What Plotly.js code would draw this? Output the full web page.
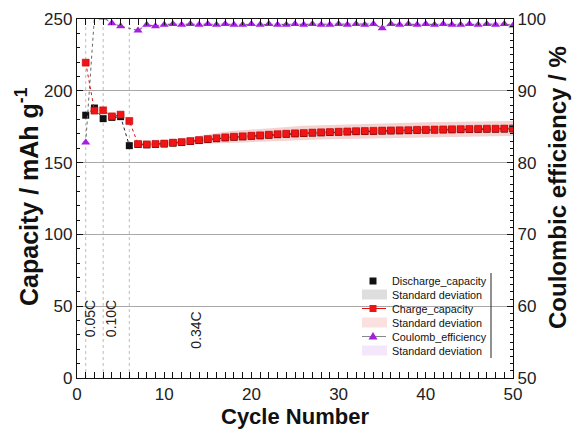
<!DOCTYPE html>
<html>
<head>
<meta charset="utf-8">
<script src="https://cdn.plot.ly/plotly-3.0.1.min.js"></script>
<style>
  html, body { margin: 0; padding: 0; background: #fff; }
  #chart { width: 579px; height: 429px; }
</style>
</head>
<body>
<div id="chart"></div>
<script>
// ---------- data ----------
const cycles = [1,2,3,4,5,6,7,8,9,10,11,12,13,14,15,16,17,18,19,20,21,22,23,24,25,26,27,28,29,30,31,32,33,34,35,36,37,38,39,40,41,42,43,44,45,46,47,48,49,50];

const dischargeCapacity = [183.0,188.0,180.6,181.5,182.0,161.8,162.6,162.4,162.7,163.0,163.6,164.0,164.7,165.4,166.1,166.7,167.3,167.7,168.0,168.4,168.7,169.1,169.5,169.8,170.1,170.3,170.6,170.8,171.0,171.2,171.4,171.6,171.7,171.8,172.0,172.1,172.2,172.3,172.5,172.6,172.7,172.8,172.9,173.0,173.1,173.2,173.3,173.3,173.4,173.5];
const dischargeStd = [null,null,null,null,null,null,0.8,0.8,0.9,0.9,1.0,1.0,1.0,1.1,1.1,1.1,1.2,1.2,1.2,1.2,1.3,1.3,1.3,1.3,1.3,1.3,1.3,1.4,1.4,1.4,1.4,1.4,1.4,1.4,1.4,1.4,1.4,1.4,1.4,1.4,1.4,1.4,1.4,1.4,1.4,1.4,1.4,1.4,1.4,1.4];

const chargeCapacity = [219.6,186.2,186.4,182.2,183.4,179.0,163.0,162.7,163.0,163.3,163.9,164.3,165.0,165.7,166.4,167.0,167.6,168.0,168.3,168.7,169.0,169.4,169.8,170.1,170.4,170.6,170.9,171.1,171.3,171.5,171.7,171.9,172.0,172.1,172.3,172.4,172.5,172.6,172.8,172.9,173.0,173.1,173.2,173.3,173.4,173.5,173.6,173.6,173.7,173.8];
const chargeStd = [null,null,null,null,null,null,1.0,1.2,1.5,1.8,2.1,2.4,2.7,3.0,3.3,3.6,3.9,4.1,4.3,4.4,4.5,4.6,4.7,4.8,4.9,5.0,5.0,5.0,5.0,5.0,5.0,5.0,5.0,5.1,5.1,5.1,5.1,5.1,5.1,5.1,5.2,5.2,5.2,5.2,5.2,5.2,5.2,5.2,5.2,5.2];

const coulombEfficiency = [82.8,100.3,100.2,99.4,99.0,null,98.4,99.2,99.0,99.2,99.3,99.2,99.3,99.2,99.3,99.2,99.3,99.2,99.2,99.3,99.2,99.3,99.2,99.2,99.3,99.2,99.3,99.2,99.2,99.3,99.2,99.3,99.2,99.3,98.7,99.3,99.2,99.3,99.2,99.3,99.2,99.3,99.2,99.2,99.3,99.2,99.3,99.2,99.3,99.1];
const coulombStd = [null,null,null,null,null,null,0.2,0.2,0.2,0.2,0.2,0.2,0.2,0.2,0.2,0.2,0.2,0.2,0.2,0.2,0.2,0.2,0.2,0.2,0.2,0.2,0.2,0.2,0.2,0.2,0.2,0.2,0.2,0.2,0.2,0.2,0.2,0.2,0.2,0.2,0.2,0.2,0.2,0.2,0.2,0.2,0.2,0.2,0.2,0.2];

const rateChangeCycles = [1, 3, 6];
const rateLabels = ['0.05C', '0.10C', '0.34C'];
const rateLabelCycles = [1.5, 3.9, 13.65];
const rateLabelCapacity = [41, 41, 33];

const legendLabels = ['Discharge_capacity','Standard deviation','Charge_capacity','Standard deviation','Coulomb_efficiency','Standard deviation'];

// ---------- helpers ----------
const FONT = 'Liberation Sans, Arial, Helvetica, sans-serif';
function band(x, y, s) {
  const xs = [], lo = [], hi = [];
  for (let i = 0; i < x.length; i++) {
    if (s[i] == null || y[i] == null) continue;
    xs.push(x[i]); hi.push(y[i] + s[i]); lo.push(y[i] - s[i]);
  }
  return { x: xs.concat(xs.slice().reverse()), y: hi.concat(lo.slice().reverse()) };
}

const bD = band(cycles, dischargeCapacity, dischargeStd);
const bC = band(cycles, chargeCapacity, chargeStd);
const bE = band(cycles, coulombEfficiency, coulombStd);

const traces = [
  { x: bD.x, y: bD.y, type: 'scatter', mode: 'lines', fill: 'toself',
    fillcolor: 'rgba(200,200,200,0.5)', line: { width: 0 }, hoverinfo: 'skip', showlegend: false },
  { x: bC.x, y: bC.y, type: 'scatter', mode: 'lines', fill: 'toself',
    fillcolor: 'rgba(232,155,155,0.45)', line: { width: 0 }, hoverinfo: 'skip', showlegend: false },
  { x: bE.x, y: bE.y, type: 'scatter', mode: 'lines', fill: 'toself', yaxis: 'y2',
    fillcolor: 'rgba(225,190,245,0.5)', line: { width: 0 }, hoverinfo: 'skip', showlegend: false },
  { x: cycles, y: dischargeCapacity, type: 'scatter', mode: 'lines+markers', name: 'Discharge_capacity',
    line: { color: '#222', width: 1, dash: 'dot' },
    marker: { symbol: 'square', size: 7, color: '#111' }, showlegend: false },
  { x: cycles, y: chargeCapacity, type: 'scatter', mode: 'lines+markers', name: 'Charge_capacity',
    line: { color: '#e01010', width: 1, dash: 'dot' },
    marker: { symbol: 'square', size: 7, color: '#f21414', line: { color: '#b00000', width: 0.5 } }, showlegend: false },
  { x: cycles, y: coulombEfficiency, type: 'scatter', mode: 'lines+markers', name: 'Coulomb_efficiency', yaxis: 'y2',
    connectgaps: true,
    line: { color: '#666', width: 1, dash: 'dot' },
    marker: { symbol: 'triangle-up', size: 8, color: '#a51fe0' }, showlegend: false }
];

// pixel geometry of the plot area
const L = 77, R = 513, T = 19, B = 378;
const px = v => (v - L) / (R - L);
const py = v => (B - v) / (B - T);

const shapes = [];
rateChangeCycles.forEach(c => shapes.push({
  type: 'line', xref: 'x', yref: 'paper', x0: c, x1: c, y0: 0, y1: 1,
  line: { color: '#bdbdbd', width: 1, dash: 'dot' }, layer: 'below'
}));

// manual legend
const legY = [281, 294.5, 308.5, 322.5, 336.5, 350.5];
const symX = 373;
shapes.push({ type: 'rect', xref: 'paper', yref: 'paper', x0: px(symX - 3.5), x1: px(symX + 3.5), y0: py(legY[0] + 3.5), y1: py(legY[0] - 3.5), fillcolor: '#111', line: { width: 0 } });
shapes.push({ type: 'rect', xref: 'paper', yref: 'paper', x0: px(362), x1: px(387), y0: py(legY[1] + 5), y1: py(legY[1] - 5), fillcolor: '#dedede', line: { width: 0 } });
shapes.push({ type: 'line', xref: 'paper', yref: 'paper', x0: px(362), x1: px(386), y0: py(legY[2]), y1: py(legY[2]), line: { color: '#e01010', width: 1 } });
shapes.push({ type: 'rect', xref: 'paper', yref: 'paper', x0: px(symX - 3.5), x1: px(symX + 3.5), y0: py(legY[2] + 3.5), y1: py(legY[2] - 3.5), fillcolor: '#f21414', line: { width: 0 } });
shapes.push({ type: 'rect', xref: 'paper', yref: 'paper', x0: px(362), x1: px(387), y0: py(legY[3] + 5), y1: py(legY[3] - 5), fillcolor: '#fbe0e0', line: { width: 0 } });
shapes.push({ type: 'line', xref: 'paper', yref: 'paper', x0: px(362), x1: px(386), y0: py(legY[4]), y1: py(legY[4]), line: { color: '#888', width: 1 } });
shapes.push({ type: 'path', xref: 'paper', yref: 'paper',
  path: 'M ' + px(symX - 4.5) + ',' + py(legY[4] + 3) + ' L ' + px(symX + 4.5) + ',' + py(legY[4] + 3) + ' L ' + px(symX) + ',' + py(legY[4] - 4.5) + ' Z',
  fillcolor: '#a51fe0', line: { width: 0 } });
shapes.push({ type: 'rect', xref: 'paper', yref: 'paper', x0: px(362), x1: px(387), y0: py(legY[5] + 5), y1: py(legY[5] - 5), fillcolor: '#f4e6fb', line: { width: 0 } });
shapes.push({ type: 'line', xref: 'paper', yref: 'paper', x0: px(491), x1: px(491), y0: py(273), y1: py(358), line: { color: '#222', width: 1 } });

const annotations = [];
legendLabels.forEach((t, i) => annotations.push({
  text: t, xref: 'paper', yref: 'paper', x: px(390), y: py(legY[i]), xanchor: 'left', yanchor: 'middle',
  showarrow: false, font: { family: FONT, size: 10.8, color: '#111' }
}));
rateLabels.forEach((t, i) => annotations.push({
  text: t, xref: 'x', yref: 'y', x: rateLabelCycles[i], y: rateLabelCapacity[i], textangle: -90,
  xanchor: 'center', yanchor: 'middle', showarrow: false, font: { family: FONT, size: 14, color: '#222' }
}));
annotations.push({ text: '<b>Cycle Number</b>', xref: 'paper', yref: 'paper', x: 0.5, y: py(416), xanchor: 'center', yanchor: 'middle', showarrow: false, font: { family: FONT, size: 22, color: '#111' } });
annotations.push({ text: '<b>Capacity / mAh g<sup>-1</sup></b>', xref: 'paper', yref: 'paper', x: px(27), y: py(197), textangle: -90, xanchor: 'center', yanchor: 'middle', showarrow: false, font: { family: FONT, size: 25, color: '#111' } });
annotations.push({ text: '<b>Coulombic efficiency / %</b>', xref: 'paper', yref: 'paper', x: px(557), y: py(188), textangle: -90, xanchor: 'center', yanchor: 'middle', showarrow: false, font: { family: FONT, size: 24, color: '#111' } });

const tickFont = { family: FONT, size: 17, color: '#222' };
const layout = {
  width: 579, height: 429,
  margin: { l: L, r: 579 - R, t: T, b: 429 - B, pad: 0 },
  paper_bgcolor: '#fff', plot_bgcolor: '#fff',
  showlegend: false,
  xaxis: {
    range: [0, 50], dtick: 10, tick0: 0, ticks: 'inside', ticklen: 6, tickwidth: 1, tickcolor: '#111',
    minor: { dtick: 1, ticks: 'inside', ticklen: 3, tickcolor: '#111', showgrid: false },
    showline: true, linecolor: '#111', linewidth: 1.2, mirror: 'allticks',
    showgrid: false, zeroline: false, tickfont: tickFont, fixedrange: true
  },
  yaxis: {
    range: [0, 250], dtick: 50, tick0: 0, ticks: 'inside', ticklen: 6, tickwidth: 1, tickcolor: '#111',
    minor: { dtick: 10, ticks: 'inside', ticklen: 3, tickcolor: '#111', showgrid: false },
    showline: true, linecolor: '#111', linewidth: 1.2,
    showgrid: true, gridcolor: '#a8a8a8', gridwidth: 1, zeroline: false, tickfont: tickFont, fixedrange: true
  },
  yaxis2: {
    overlaying: 'y', side: 'right', range: [50, 100], dtick: 10, tick0: 50,
    ticks: 'inside', ticklen: 6, tickwidth: 1, tickcolor: '#111',
    minor: { dtick: 1, ticks: 'inside', ticklen: 3, tickcolor: '#111', showgrid: false },
    showline: true, linecolor: '#111', linewidth: 1.2,
    showgrid: false, zeroline: false, tickfont: tickFont, fixedrange: true
  },
  shapes: shapes,
  annotations: annotations
};

Plotly.newPlot('chart', traces, layout, { staticPlot: true, displayModeBar: false });
</script>
</body>
</html>
